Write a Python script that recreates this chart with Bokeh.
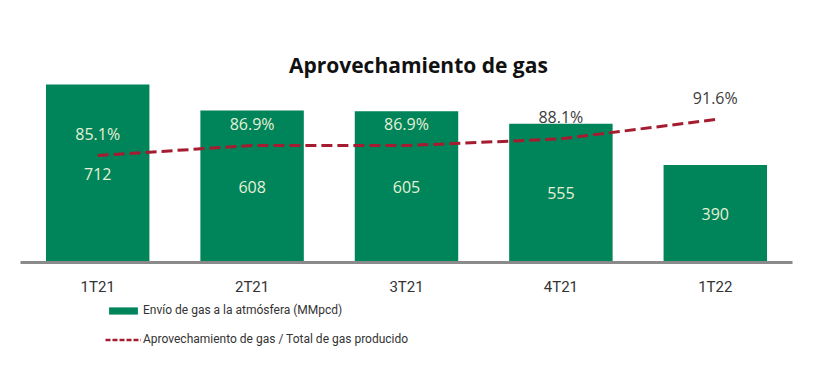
from bokeh.plotting import figure
from bokeh.layouts import column
from bokeh.models import (ColumnDataSource, FactorRange, Range1d,
                          Label, Legend, LegendItem)
from bokeh.core.properties import value
from bokeh.embed import file_html
from bokeh.resources import INLINE

# ---- data ----
categories = ["1T21", "2T21", "3T21", "4T21", "1T22"]
gas_atmosfera = [712, 608, 605, 555, 390]          # MMpcd
aprovechamiento_pct = [85.1, 86.9, 86.9, 88.1, 91.6]  # %
pct_labels = ["85.1%", "86.9%", "86.9%", "88.1%", "91.6%"]
val_labels = ["712", "608", "605", "555", "390"]
title_text = "Aprovechamiento de gas"
legend_bar = "Envío de gas a la atmósfera (MMpcd)"
legend_line = "Aprovechamiento de gas / Total de gas producido"

# ---- styles ----
BAR_COLOR = "#00845a"
LINE_COLOR = "#a51c30"
INSIDE_TXT = "#e6f0d6"
OUTSIDE_TXT = "#3c3c3c"
pct_label_colors = [INSIDE_TXT, INSIDE_TXT, INSIDE_TXT, OUTSIDE_TXT, OUTSIDE_TXT]

src = ColumnDataSource(dict(
    cat=categories,
    val=gas_atmosfera,
    half=[v / 2 for v in gas_atmosfera],
    pct=aprovechamiento_pct,
    pct_lbl=pct_labels,
    val_lbl=val_labels,
    pct_col=pct_label_colors,
))

p = figure(width=829, height=300, output_backend="svg", toolbar_location=None,
           x_range=FactorRange(*categories, range_padding=0),
           y_range=Range1d(0, 968), y_axis_location=None,
           min_border_left=20, min_border_right=37,
           min_border_top=20, min_border_bottom=38)
p.extra_y_ranges = {"pct": Range1d(65.79, 109.47)}
p.outline_line_color = None
p.xgrid.visible = False
p.ygrid.visible = False
p.background_fill_color = "white"
p.border_fill_color = "white"

bars = p.vbar(x="cat", top="val", width=0.67, source=src,
              fill_color=BAR_COLOR, line_color=None)

line = p.line(x="cat", y="pct", source=src, y_range_name="pct",
              line_color=LINE_COLOR, line_width=3, line_dash="11 5")

p.text(x="cat", y="half", text="val_lbl", source=src,
       text_align="center", text_baseline="middle",
       text_font=value("Open Sans"), text_font_size="16px",
       text_color=INSIDE_TXT)

p.text(x="cat", y="pct", text="pct_lbl", source=src, y_range_name="pct",
       y_offset=-22, text_align="center", text_baseline="middle",
       text_font=value("Open Sans"), text_font_size="16px",
       text_color="pct_col")

p.add_layout(Label(x=2.577, y=792, text=title_text, text_align="center",
                   text_baseline="middle", text_font="Open Sans",
                   text_font_style="bold", text_font_size="21px",
                   text_color="#111111"))

ax = p.xaxis[0]
ax.axis_line_color = "#8a8a8a"
ax.axis_line_width = 3
ax.major_tick_line_color = None
ax.minor_tick_line_color = None
ax.major_label_standoff = 9
ax.major_label_text_font = "Roboto"
ax.major_label_text_font_size = "15px"
ax.major_label_text_color = "#333333"

# ---- legend strip (proxy glyphs placed outside the visible range) ----
lg = figure(width=829, height=76, output_backend="svg", toolbar_location=None,
            x_range=Range1d(0, 1), y_range=Range1d(0, 1),
            x_axis_location=None, y_axis_location=None,
            min_border_left=0, min_border_right=0,
            min_border_top=0, min_border_bottom=0)
lg.outline_line_color = None
lg.grid.visible = False
lg.background_fill_color = "white"
lg.border_fill_color = "white"
proxy = ColumnDataSource(dict(x=[-10, -9], y=[-10, -10]))
lbar = lg.vbar(x="x", top="y", width=0.5, source=proxy,
               fill_color=BAR_COLOR, line_color=None)
lline = lg.line(x="x", y="y", source=proxy, line_color=LINE_COLOR,
                line_width=2.5, line_dash="5 2")

legend = Legend(items=[LegendItem(label=legend_bar, renderers=[lbar]),
                       LegendItem(label=legend_line, renderers=[lline])],
                location=(85, 27), orientation="vertical",
                glyph_width=36, glyph_height=9, label_height=20,
                label_standoff=2, spacing=9, padding=0, margin=0,
                border_line_color=None, background_fill_alpha=0,
                label_text_font="Roboto", label_text_font_size="12px",
                label_text_color="#333333")
lg.add_layout(legend, "center")

layout = column(p, lg, spacing=0)
open("out.html", "w").write(file_html(layout, INLINE))
